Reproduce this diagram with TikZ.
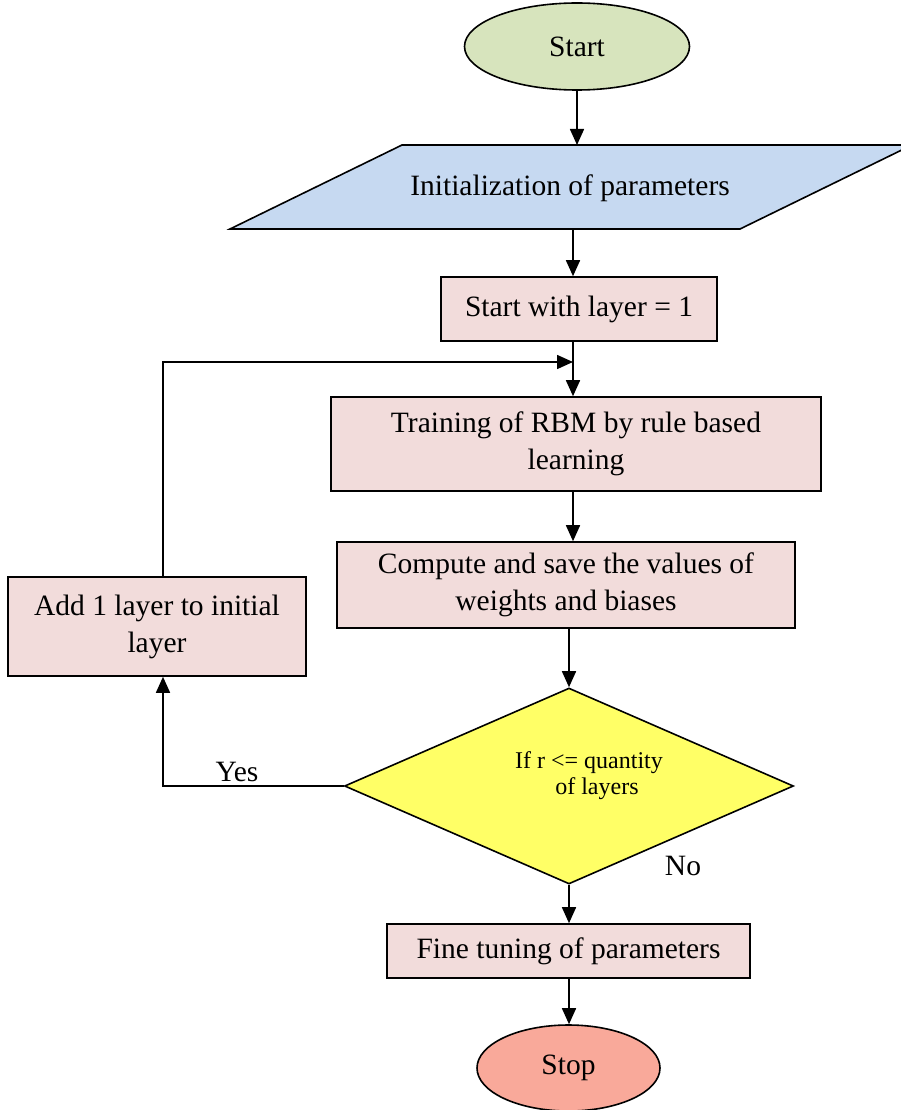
\documentclass[tikz,border=0pt]{standalone}
\usepackage{fontspec}
\setmainfont{Liberation Serif}
\usetikzlibrary{shapes.geometric,arrows.meta}
\definecolor{cstart}{HTML}{D7E4BD}
\definecolor{cinit}{HTML}{C6D9F1}
\definecolor{cbox}{HTML}{F2DCDB}
\definecolor{cdec}{HTML}{FFFF66}
\definecolor{cstop}{HTML}{F9A99A}
\tikzset{
  every node/.style={font=\fontsize{29.5}{37}\selectfont, inner sep=0pt},
  term/.style={ellipse, draw, line width=1.6pt},
  procbox/.style={rectangle, draw, line width=1.6pt, fill=cbox, align=center},
  arr/.style={draw, line width=1.6pt, -{Triangle[length=16pt,width=14pt]}},
  edge/.style={draw, line width=1.6pt},
}
\begin{document}
\begin{tikzpicture}[x=1pt,y=-1pt]
\useasboundingbox (0,0) rectangle (900,1110);
% start
\node[term, fill=cstart, minimum width=225, minimum height=87] (start) at (577,46.5) {Start};
% parallelogram
\draw[edge, fill=cinit] (402,145) -- (912,145) -- (740,229) -- (230,229) -- cycle;
\node (init) at (570,188) {Initialization of parameters};
\coordinate (pT) at (577,145);
\coordinate (pB) at (573,229);
% boxes
\node[procbox, minimum width=276, minimum height=64] (s1) at (579,309) {Start with layer = 1};
\node[procbox, minimum width=490, minimum height=94] (train) at (576,444) {Training of RBM by rule based\\learning};
\node[procbox, minimum width=458, minimum height=86] (comp) at (566,585) {Compute and save the values of\\weights and biases};
\node[procbox, minimum width=298, minimum height=99] (add) at (157,626.5) {Add 1 layer to initial\\layer};
\node[diamond, draw, line width=1.6pt, fill=cdec, minimum width=449, minimum height=196, aspect=2.29] (dec) at (569,786) {};
\node[font=\fontsize{24}{26}\selectfont, align=center] (dtext) at (589,776) {If r <= quantity\\\hspace*{16pt}of layers};
\node[procbox, minimum width=363, minimum height=54] (fine) at (568.5,951) {Fine tuning of parameters};
\node[term, fill=cstop, minimum width=183, minimum height=86] (stop) at (568.5,1068) {Stop};
% labels
\node (yes) at (237,772) {Yes};
\node (no) at (683,866) {No};
% connectors
\coordinate (j) at (573,362);
\coordinate (lx) at (163,0);
\draw[arr] (start.south) -- (pT);
\draw[arr] (pB) -- (pB |- s1.north);
\draw[arr] (s1.south -| pB) -- (pB |- train.north);
\draw[arr] (train.south -| pB) -- (pB |- comp.north);
\draw[arr] (comp.south -| dec.north) -- (dec.north);
\draw[arr] (add.north -| lx) |- (j);
\draw[arr] (dec.west) -| (add.south -| lx);
\draw[arr] (dec.south) -- (dec.south |- fine.north);
\draw[arr] (fine.south -| dec.south) -- (dec.south |- stop.north);
\end{tikzpicture}
\end{document}
